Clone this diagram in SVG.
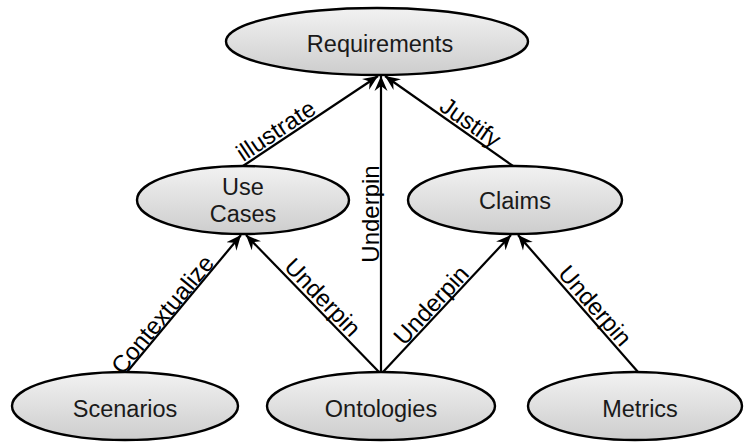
<svg xmlns="http://www.w3.org/2000/svg" width="744" height="443" viewBox="0 0 744 443">
  <style>
    .node ellipse { fill: url(#nodeFill); stroke: #000; stroke-width: 2.4; }
    .node text { font-family: "Liberation Sans", Arial, sans-serif; font-size: 23.5px; fill: #1a1a1a; text-anchor: middle; }
    .edge { stroke: #000; stroke-width: 2.2; fill: none; marker-end: url(#arrow); }
    .label { font-family: "Liberation Sans", Arial, sans-serif; font-size: 24px; fill: #000; text-anchor: middle; }
  </style>
  <defs>
    <linearGradient id="nodeFill" x1="0" y1="0" x2="0" y2="1">
      <stop offset="0" stop-color="#f2f2f2"/>
      <stop offset="1" stop-color="#cdcdcd"/>
    </linearGradient>
    <marker id="arrow" viewBox="-15 -7 16 14" refX="0" refY="0" markerWidth="16" markerHeight="14" markerUnits="userSpaceOnUse" orient="auto">
      <path d="M0,0 L-15,-6.5 L-10,0 L-15,6.5 Z" fill="#000"/>
    </marker>
  </defs>

  <rect width="744" height="443" fill="#fff"/>

  <!-- connectors -->
  <g id="connectors">
    <line class="edge" x1="243" y1="166" x2="378" y2="76"/>
    <line class="edge" x1="381" y1="372" x2="381" y2="76"/>
    <line class="edge" x1="513" y1="166" x2="385" y2="76"/>
    <line class="edge" x1="127" y1="372" x2="241" y2="235"/>
    <line class="edge" x1="379" y1="372" x2="246" y2="235"/>
    <line class="edge" x1="383" y1="372" x2="511" y2="235"/>
    <line class="edge" x1="638" y1="372" x2="518" y2="235"/>

    <text class="label" transform="translate(282,140) rotate(-33.7)" y="-3">illustrate</text>
    <text class="label" transform="translate(464,131.5) rotate(35.1)" y="-3">Justify</text>
    <text class="label" transform="translate(381,214) rotate(-90)" y="-2">Underpin</text>
    <text class="label" transform="translate(169.6,320.4) rotate(-50.4)" y="-1">Contextualize</text>
    <text class="label" transform="translate(314.5,305) rotate(46.1)" y="-3">Underpin</text>
    <text class="label" transform="translate(438.6,312) rotate(-47.2)" y="-2">Underpin</text>
    <text class="label" transform="translate(586.6,313) rotate(49)" y="-3">Underpin</text>
  </g>

  <!-- nodes -->
  <g id="requirements" class="node">
    <ellipse cx="377" cy="41.5" rx="151" ry="33.5"/>
    <text x="380" y="52">Requirements</text>
  </g>
  <g id="use-cases" class="node">
    <ellipse cx="243" cy="200" rx="106" ry="34"/>
    <text x="243" y="195">Use</text>
    <text x="243" y="222">Cases</text>
  </g>
  <g id="claims" class="node">
    <ellipse cx="515" cy="200" rx="107" ry="34"/>
    <text x="515" y="209">Claims</text>
  </g>
  <g id="scenarios" class="node">
    <ellipse cx="125" cy="406" rx="113" ry="34"/>
    <text x="125" y="417">Scenarios</text>
  </g>
  <g id="ontologies" class="node">
    <ellipse cx="381" cy="406" rx="114" ry="34"/>
    <text x="381" y="417">Ontologies</text>
  </g>
  <g id="metrics" class="node">
    <ellipse cx="635" cy="406" rx="107" ry="34"/>
    <text x="640" y="417">Metrics</text>
  </g>
</svg>
